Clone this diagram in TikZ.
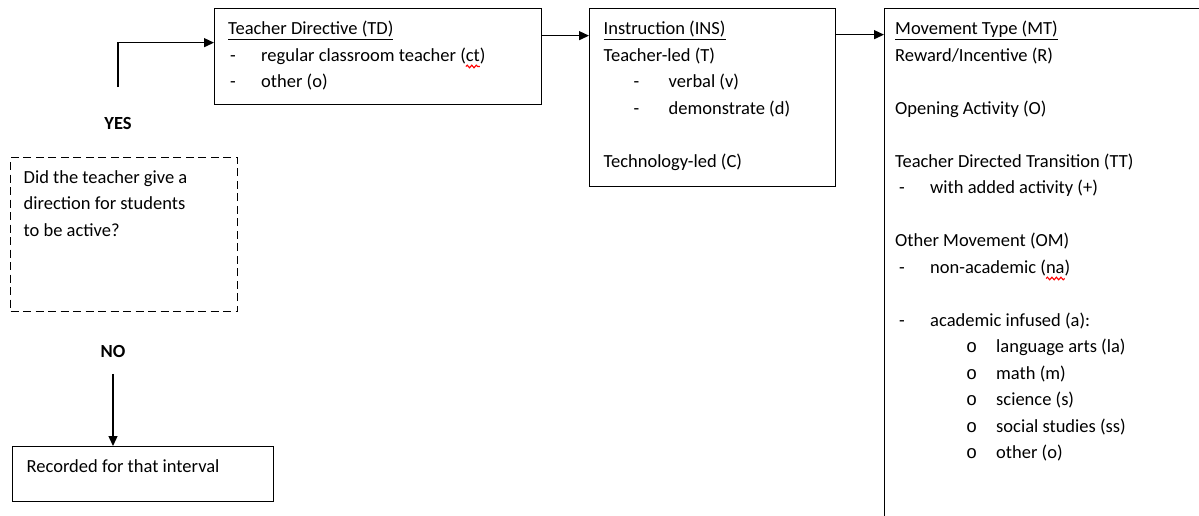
\documentclass[tikz,border=0pt]{standalone}
\usepackage{fontspec}
\setmainfont{Carlito}
\newfontfamily\bulletfont{Liberation Mono}
\usetikzlibrary{arrows.meta}
\usetikzlibrary{decorations.pathmorphing}

\newsavebox\spellbox
\newcommand{\spelled}[1]{\sbox\spellbox{#1}\rlap{\usebox\spellbox}\tikz[overlay]\draw[red,line width=1.1pt,decorate,decoration={snake,amplitude=1.3pt,segment length=4.5pt}] (0pt,-5pt) -- (\wd\spellbox,-5pt);\hspace*{\wd\spellbox}}
\newcommand{\dashitem}[1]{\makebox[35pt][l]{\hspace{4pt}-}#1}
\newcommand{\oitem}[1]{\hspace*{71pt}\makebox[30pt][l]{\bulletfont o}#1}

\tikzset{
  box/.style={draw, line width=1.3pt, inner sep=0pt, anchor=north west},
  ask/.style={box, dash pattern=on 8pt off 4.5pt},
  lines/.style={inner sep=0pt, anchor=base west},
  answer/.style={inner sep=0pt, font=\fontsize{18.5}{26.5}\selectfont\bfseries}
}

\begin{document}
\begin{tikzpicture}[x=1pt, y=-1pt, line width=1.3pt,
    >={Triangle[length=10pt,width=9pt]},
    font=\fontsize{18.5}{26.5}\selectfont]
  \useasboundingbox (0,0) rectangle (1199,516);
  \clip (0,0) rectangle (1199,516);

  \node[box, minimum width=327pt, minimum height=96pt] (td) at (214,8) {};
  \node[lines] (td-txt) at (228,35) {\begin{tabular}[t]{@{}l@{}}
    \underline{Teacher Directive (TD)}\\
    \makebox[33pt][l]{\hspace{2pt}-}regular classroom teacher (\spelled{ct})\\
    \makebox[33pt][l]{\hspace{2pt}-}other (o)
  \end{tabular}};

  \node[box, minimum width=246pt, minimum height=178pt] (ins) at (589,8) {};
  \node[lines] (ins-txt) at (603,35) {\begin{tabular}[t]{@{}l@{}}
    \underline{Instruction (INS)}\\
    Teacher-led (T)\\
    \hspace*{30pt}\makebox[35pt][l]{-}verbal (v)\\
    \hspace*{30pt}\makebox[35pt][l]{-}demonstrate (d)\\
    \\
    Technology-led (C)
  \end{tabular}};

  \node[box, minimum width=400pt, minimum height=600pt] (mt) at (884,8) {};
  \node[lines] (mt-txt) at (895,35) {\begin{tabular}[t]{@{}l@{}}
    \underline{Movement Type (MT)}\\
    Reward/Incentive (R)\\
    \\
    Opening Activity (O)\\
    \\
    Teacher Directed Transition (TT)\\
    \dashitem{with added activity (+)}\\
    \\
    Other Movement (OM)\\
    \dashitem{non-academic (\spelled{na})}\\
    \\
    \dashitem{academic infused (a):}\\
    \oitem{language arts (la)}\\
    \oitem{math (m)}\\
    \oitem{science (s)}\\
    \oitem{social studies (ss)}\\
    \oitem{other (o)}
  \end{tabular}};

  \node[ask, minimum width=227pt, minimum height=154pt] (ask) at (10,157) {};
  \node[lines] (ask-txt) at (23,183) {\begin{tabular}[t]{@{}l@{}}
    Did the teacher give a\\
    direction for students\\
    to be active?
  \end{tabular}};

  \node[box, minimum width=261pt, minimum height=55pt] (rec) at (12,446) {};
  \node[lines] (rec-txt) at (26,472) {Recorded for that interval};

  \node[answer] (yes) at (118,123) {YES};
  \node[answer] (no) at (113,351) {NO};

  \draw[->] ([yshift=29pt]yes.north) |- ([yshift=14pt]td.west);
  \coordinate (tdo) at ([yshift=21pt]td.east);
  \draw[->] (tdo) -- (tdo -| ins.west);
  \coordinate (inso) at ([yshift=63pt]ins.east);
  \draw[->] (inso) -- (inso -| mt.west);
  \coordinate (nod) at ([yshift=-16pt]no.south);
  \draw[->] (nod) -- (nod |- rec.north);
\end{tikzpicture}
\end{document}
